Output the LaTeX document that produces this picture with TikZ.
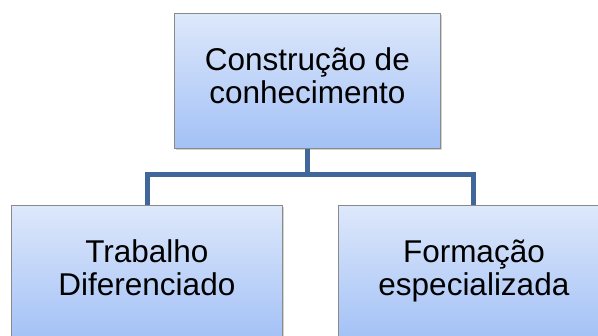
\documentclass[tikz,border=0pt]{standalone}
\usepackage{fontspec}
\setmainfont{Liberation Sans}
\usetikzlibrary{shadows}
\definecolor{boxtop}{HTML}{DDE8FB}
\definecolor{boxbot}{HTML}{A3C1F6}
\definecolor{boxline}{HTML}{8A8A8A}
\definecolor{conn}{HTML}{41679A}
\newcommand{\twolines}[2]{\raisebox{4pt}{\begin{tabular}{@{}c@{}}#1\\#2\end{tabular}}}
\tikzset{
  orgbox/.style={draw=boxline, line width=0.8pt, top color=boxtop, bottom color=boxbot,
    minimum width=266pt, minimum height=135pt, inner sep=0pt, align=center,
    font=\fontsize{31.5pt}{33pt}\selectfont, anchor=north west,
    drop shadow={opacity=0.35, shadow xshift=2pt, shadow yshift=-2pt}},
  link/.style={draw=conn, line width=5pt}
}
\begin{document}
\begin{tikzpicture}[x=1pt,y=1pt]
\useasboundingbox (0,0) rectangle (598,-336);
\clip (0,0) rectangle (598,-336);
\node[orgbox] (top) at (174,-13) {\twolines{Construção de}{conhecimento}};
\node[orgbox, minimum width=271pt] (left) at (11,-205) {\twolines{Trabalho}{Diferenciado}};
\node[orgbox, minimum width=271pt] (right) at (338,-205) {\twolines{Formação}{especializada}};
\coordinate (jl) at (147,-175);
\coordinate (jr) at (473,-175);
\draw[link] (top.south) -- (top.south |- jl);
\draw[link, line join=miter] (left.north -| jl) -- (jl) -- (jr) -- (right.north -| jr);
\end{tikzpicture}
\end{document}
